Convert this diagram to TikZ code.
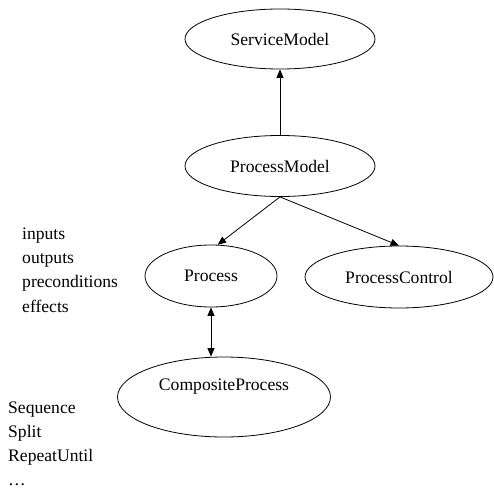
\documentclass[tikz,border=0pt]{standalone}
\usepackage{fontspec}
\setmainfont{Liberation Serif}
\usetikzlibrary{calc,shapes.geometric,arrows.meta}

\begin{document}
\begin{tikzpicture}[x=1pt, y=-1pt,
    font=\fontsize{17.6}{24}\selectfont,
    ent/.style={draw, ellipse, line width=0.8pt, inner sep=0pt},
    lbl/.style={anchor=base west, inner sep=0pt},
    >={Triangle[length=8.5pt, width=7pt]}]
    \useasboundingbox (0,0) rectangle (494,489);

    \node[ent, minimum width=190pt, minimum height=60pt](sm) at (280,39){ServiceModel};
    \node[ent, minimum width=190pt, minimum height=61pt](pm) at (280,166){ProcessModel};
    \node[ent, minimum width=132pt, minimum height=62pt](proc) at (211,276){Process};
    \node[ent, minimum width=188pt, minimum height=62pt](pc) at (399,277){ProcessControl};
    \node[ent, minimum width=213pt, minimum height=80pt](cp) at (224,397){};
    \node(cpt) at ($(cp.center)+(0,-10)$){CompositeProcess};

    \draw[->, line width=0.8pt](pm)--(sm);
    \draw[->, line width=0.8pt](pm.south)--(proc.78);
    \draw[->, line width=0.8pt](pm.south)--(pc.north);
    \draw[<->, line width=0.8pt](proc.south)--(proc.south |- cp.north);

    \foreach \w [count=\i] in {inputs,outputs,preconditions,effects}
        \node[lbl](a\i) at (22,{239+24.4*(\i-1)}){\w};

    \foreach \w [count=\i] in {Sequence,Split,RepeatUntil,\dots}
        \node[lbl](b\i) at (8,{413+24.1*(\i-1)}){\w};

\end{tikzpicture}
\end{document}
